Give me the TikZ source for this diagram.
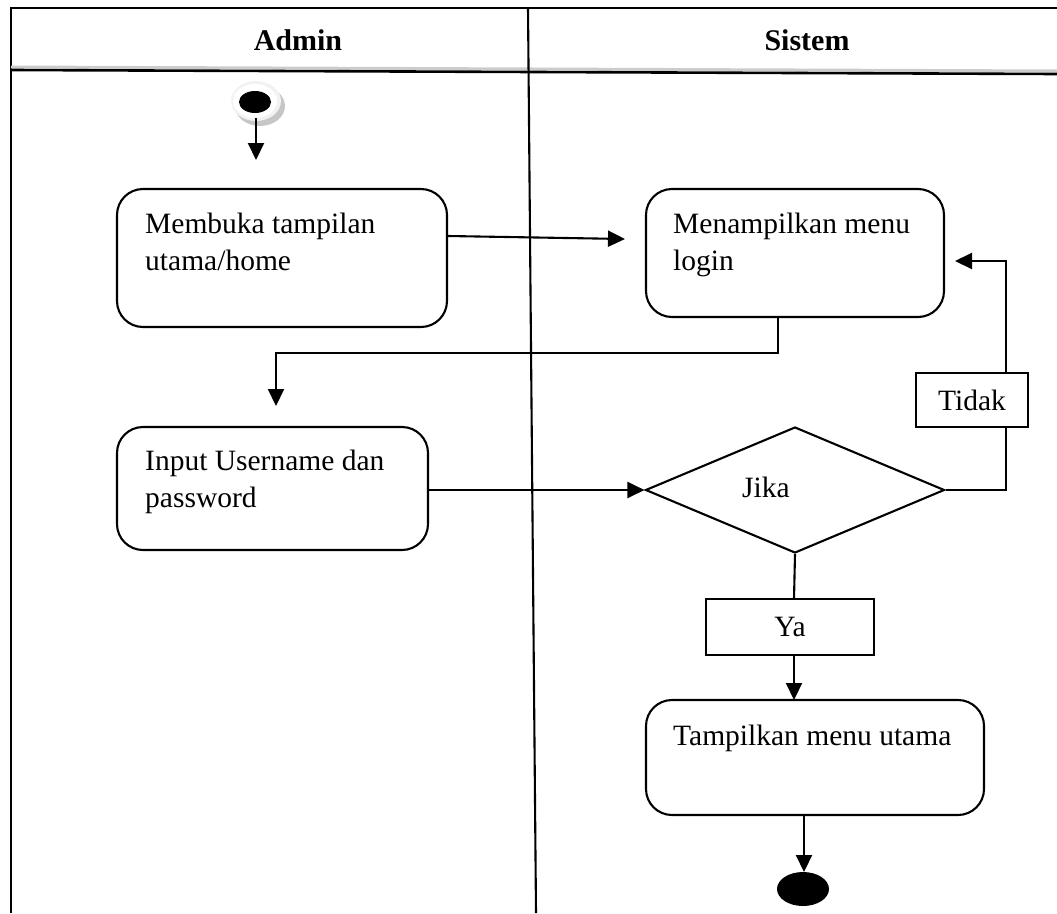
\documentclass[tikz,border=0pt]{standalone}
\usepackage{fontspec}
\setmainfont{Liberation Serif}
\usetikzlibrary{arrows.meta,shapes.geometric}
\begin{document}
\begin{tikzpicture}[x=1pt,y=-1pt,
  every node/.style={font=\fontsize{29.5}{37}\selectfont},
  frame/.style={line width=2.6pt},
  conn/.style={line width=2.1pt},
  arr/.style={conn,-{Triangle[length=17pt,width=16pt]}},
  activity/.style={draw,line width=2.1pt,rounded corners=26pt,inner sep=0pt},
  guard/.style={draw,line width=1.9pt,inner sep=0pt},
  txt/.style={anchor=base west,inner sep=0pt}]
\useasboundingbox (0,0) rectangle (1057,913);

% swimlane frame
\coordinate (tl) at (11,8);
\coordinate (tr) at (1057,8);
\coordinate (hl) at (11,70);
\coordinate (hr) at (1057,74);
\coordinate (bl) at (11,913);
\coordinate (dt) at (528,8);
\coordinate (db) at (536,913);
\draw[frame] (tr) -- (tl) -- (bl);
\draw[gray!40,line width=3pt] ([yshift=3pt]hl) -- ([yshift=3pt]hr);
\draw[frame] (hl) -- (hr);
\draw[line width=2.1pt] (dt) -- (db);
\node[font=\fontsize{30}{36}\selectfont\bfseries,anchor=base] (admin) at (298,50) {Admin};
\node[font=\fontsize{30}{36}\selectfont\bfseries,anchor=base] (sistem) at (807,50) {Sistem};

% initial state
\fill[gray!45] (260,106) ellipse [x radius=25pt,y radius=20pt];
\fill[gray!10] (256,101) ellipse [x radius=25pt,y radius=20pt];
\node[draw=none,fill=white,ellipse,minimum width=44pt,minimum height=34pt,inner sep=0pt] (halo) at (255,101) {};
\node[fill=black,ellipse,minimum width=32pt,minimum height=22pt,inner sep=0pt] (start) at (255,102) {};
\coordinate (s1) at (256,160);

% activities
\node[activity,minimum width=330pt,minimum height=138pt] (buka) at (282,258) {};
\node[txt] (bukat1) at (145,233) {Membuka tampilan};
\node[txt] (bukat2) at (145,270) {utama/home};

\node[activity,minimum width=298pt,minimum height=128pt] (login) at (795,253) {};
\node[txt] (logint1) at (673,233) {Menampilkan menu};
\node[txt] (logint2) at (673,270) {login};

\node[activity,minimum width=311pt,minimum height=123pt] (input) at (272.5,488.5) {};
\node[txt] (inputt1) at (145,470) {Input Username dan};
\node[txt] (inputt2) at (145,507) {password};

\node[draw,diamond,line width=2.1pt,inner sep=0pt,minimum width=299pt,minimum height=126pt] (jika) at (795,490) {};
\node[txt] (jikat) at (742,497) {Jika};

\node[guard,minimum width=112pt,minimum height=54pt] (tidak) at (972,400) {Tidak};
\node[guard,minimum width=168pt,minimum height=56pt] (ya) at (790,627) {Ya};

\node[activity,minimum width=338pt,minimum height=115pt] (utama) at (815,757.5) {};
\node[txt] (utamat) at (673,745) {Tampilkan menu utama};

\node[fill=black,ellipse,minimum width=52pt,minimum height=34pt,inner sep=0pt] (end) at (803,889) {};

% connectors
\coordinate (a1) at (625,239);
\coordinate (b1) at (276,406);
\coordinate (t1) at (955,261);
\coordinate (e1) at (804,872);

\draw[arr] (start.south) ++(1,5) -- (s1);
\draw[arr] (buka.east |- 0,236) -- (a1);
\draw[arr] (778,317) -- (778,353) -- (276,353) -- (b1);
\draw[arr] (input.east |- jika.west) -- (jika.west);
\draw[conn] (jika.east) -- (1006,490) -- (1006,427);
\draw[arr] (1006,373) -- (1006,261) -- (t1);
\draw[conn] (jika.south) -- (794,599);
\draw[arr] (794,655) -- (794,700);
\draw[arr] (804,815) -- (e1);
\end{tikzpicture}
\end{document}
